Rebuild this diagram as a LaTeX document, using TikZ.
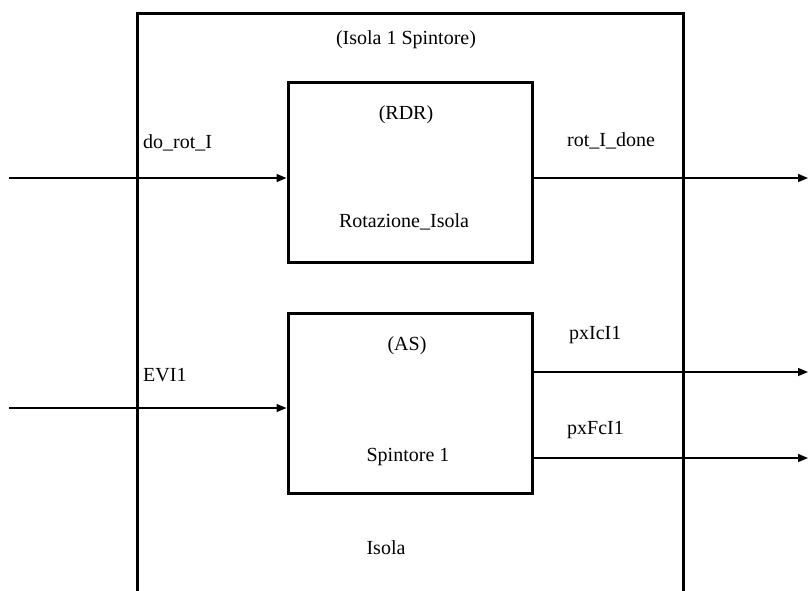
\documentclass[tikz,border=0pt]{standalone}
\usepackage{fontspec}
\setmainfont{Liberation Serif}
\usetikzlibrary{arrows.meta}
\begin{document}
\begin{tikzpicture}[x=1pt,y=-1pt,
  blockbox/.style={draw, line width=3pt, minimum width=244pt, minimum height=180pt, inner sep=0pt},
  sig/.style={line width=1.4pt, -{Triangle[length=10pt,width=8pt]}},
  lbl/.style={font=\fontsize{20}{24}\selectfont, inner sep=0pt},
  every node/.style={}]
\useasboundingbox (0,0) rectangle (808,590);
% outer frame (open at bottom)
\draw[line width=3pt] (137,592) -- (137,13) -- (683,13) -- (683,592);
\node[lbl] (title) at (406,40) {(Isola 1 Spintore)};
\node[lbl] (isola) at (386,548) {Isola};
% blocks
\node[blockbox] (rdr) at (410,172) {};
\node[blockbox] (as) at (410,403) {};
\node[lbl] (rdrt) at (406,115) {(RDR)};
\node[lbl] (rdrn) at (404,222) {Rotazione\_Isola};
\node[lbl] (ast) at (407,346) {(AS)};
\node[lbl] (asn) at (408,457) {Spintore 1};
% free ends
\coordinate (in1) at (9,178);
\coordinate (in2) at (9,408);
\coordinate (out1) at (808,178);
\coordinate (out2) at (808,372);
\coordinate (out3) at (808,458);
% connectors
\draw[sig] (in1) -- (rdr.west |- in1);
\draw[sig] (in2) -- (as.west |- in2);
\draw[sig] (rdr.east |- out1) -- (out1);
\draw[sig] (as.east |- out2) -- (out2);
\draw[sig] (as.east |- out3) -- (out3);
% signal labels
\node[lbl, anchor=west] (l1) at (143,143) {do\_rot\_I};
\node[lbl, anchor=west] (l2) at (143,375) {EVI1};
\node[lbl, anchor=west] (l3) at (567,141) {rot\_I\_done};
\node[lbl, anchor=west] (l4) at (569,335) {pxIcI1};
\node[lbl, anchor=west] (l5) at (567,430) {pxFcI1};
\end{tikzpicture}
\end{document}
